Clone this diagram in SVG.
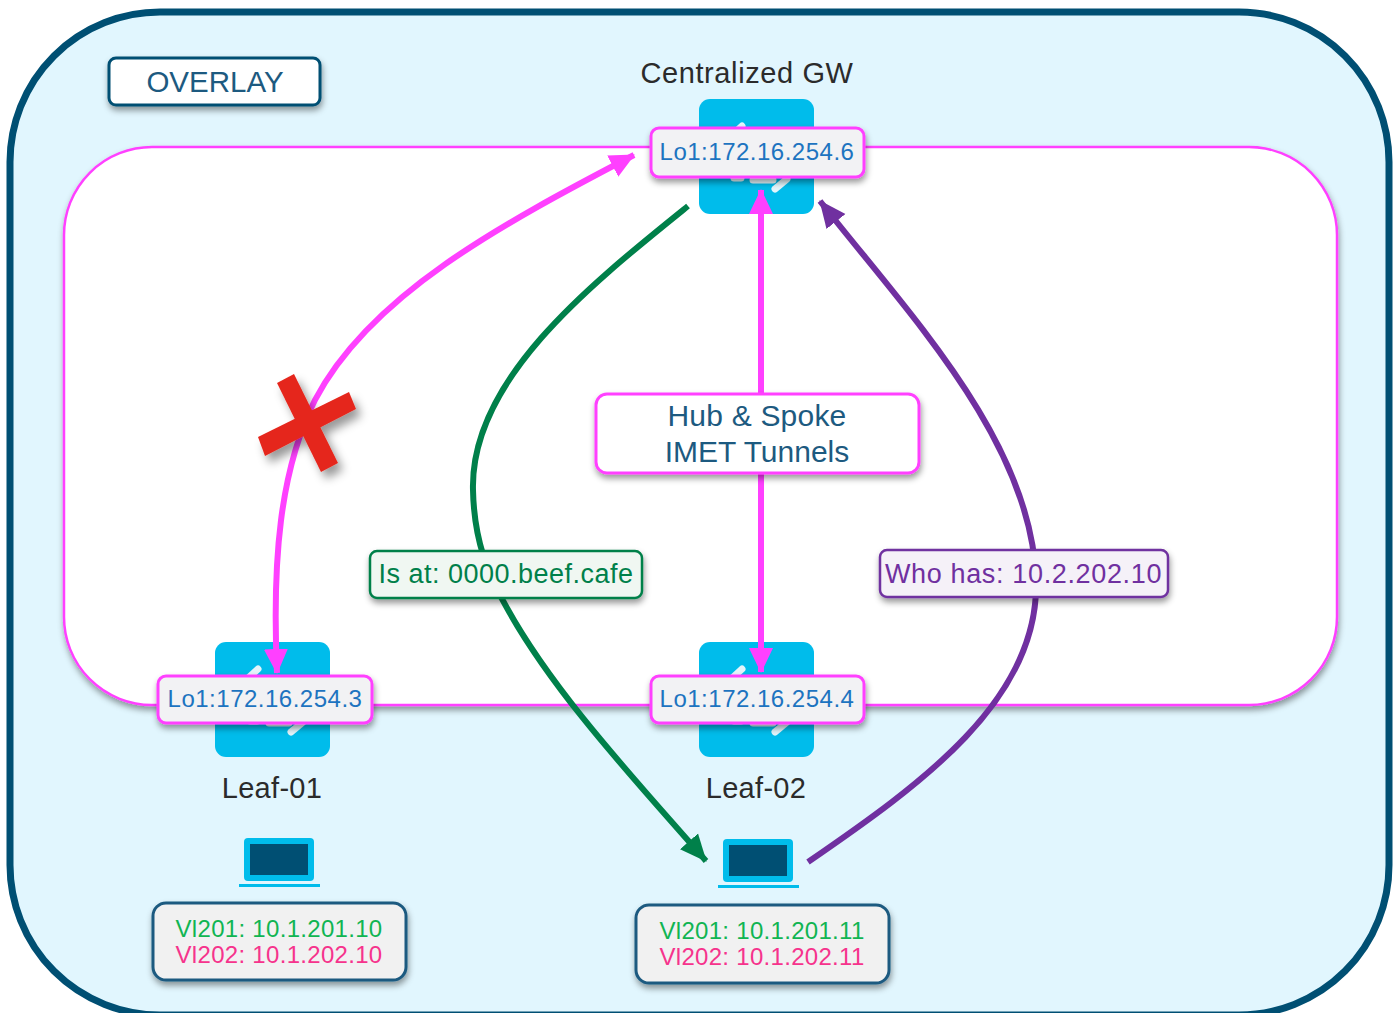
<svg xmlns="http://www.w3.org/2000/svg" width="1397" height="1013" viewBox="0 0 1397 1013">
<defs>
<filter id="sh" x="-20%" y="-30%" width="140%" height="170%"><feDropShadow dx="1" dy="4" stdDeviation="3" flood-color="#000" flood-opacity="0.4"/></filter>
<filter id="shx" x="-30%" y="-30%" width="170%" height="170%"><feDropShadow dx="5" dy="7" stdDeviation="5" flood-color="#000" flood-opacity="0.4"/></filter>
<marker id="mp" markerUnits="userSpaceOnUse" markerWidth="28" markerHeight="26" refX="24" refY="13" orient="auto-start-reverse"><path d="M0 1L25 13L0 25z" fill="#ff40ff"/></marker>
<marker id="mg" markerUnits="userSpaceOnUse" markerWidth="30" markerHeight="26" refX="26" refY="13" orient="auto"><path d="M0 1L27 13L0 25z" fill="#00804a"/></marker>
<marker id="mv" markerUnits="userSpaceOnUse" markerWidth="30" markerHeight="26" refX="26" refY="13" orient="auto"><path d="M0 1L27 13L0 25z" fill="#7030a0"/></marker>
<g id="sw"><rect width="115" height="115" rx="11" fill="#00bceb"/><g stroke="#e4f5fb" stroke-width="7" stroke-linecap="round" fill="none"><path d="M31 38L43 27"/><path d="M76 90L88 80"/><path d="M54 81H74"/><path d="M35 79H42"/></g></g>
<g id="lap"><rect x="5" y="0" width="70" height="43" rx="4" fill="#00bceb"/><rect x="11" y="6" width="58" height="31" fill="#004f73"/><rect x="0" y="46" width="81" height="3" fill="#00bceb"/></g>
</defs>
<style>
text{font-family:"Liberation Sans",Arial,sans-serif;text-anchor:middle}
.lo rect{fill:#f2f2f4;stroke:#ff40ff;stroke-width:3;filter:url(#sh)}
.lo text{font-size:24px;fill:#1d74c0;letter-spacing:.5px}
.name{font-size:29px;fill:#2b2b2b;letter-spacing:.3px}
.ip rect{fill:#f1f1f1;stroke:#1d5a80;stroke-width:3;filter:url(#sh)}
.g{font-size:24px;fill:#10b552;letter-spacing:.3px}
.r{font-size:24px;fill:#f6338c;letter-spacing:.3px}
.cv{fill:none;stroke-width:6}
</style>
<rect x="10" y="12" width="1379" height="1003" rx="150" fill="#e1f6fe" stroke="#004f73" stroke-width="7"/>
<rect id="overlay-zone" x="64" y="147" width="1273" height="558" rx="88" fill="#fff" stroke="#ff40ff" stroke-width="2.5" filter="url(#sh)"/>
<g id="overlay-label"><rect x="109" y="58" width="211" height="47" rx="7" fill="#fff" stroke="#004f73" stroke-width="3" filter="url(#sh)"/><text x="215" y="92" font-size="29.5" fill="#1d5a80">OVERLAY</text></g>
<g id="gw"><text class="name" x="747" y="83" style="letter-spacing:.6px">Centralized GW</text><use href="#sw" x="699" y="99"/></g>
<g id="leaf1"><use href="#sw" x="215" y="642"/><text class="name" x="272" y="798">Leaf-01</text></g>
<g id="leaf2"><use href="#sw" x="699" y="642"/><text class="name" x="756" y="798">Leaf-02</text></g>
<g id="connectors">
<path class="cv" stroke="#ff40ff" marker-start="url(#mp)" marker-end="url(#mp)" d="M277 673C272 560 280 470 315 400C370 295 500 225 634 155"/>
<path class="cv" stroke="#ff40ff" marker-start="url(#mp)" marker-end="url(#mp)" d="M761 190V672"/>
<path class="cv" stroke="#00804a" marker-end="url(#mg)" d="M688 206C590 285 470 380 473 490C474 540 488 575 507 608C555 695 640 785 706 861"/>
<path class="cv" stroke="#7030a0" marker-end="url(#mv)" d="M808 862C920 785 1040 700 1036 580C1032 440 905 310 820 201"/>
</g>
<g id="x-mark" filter="url(#shx)" fill="#e5261b"><path d="M277 383L294 374L338 463L321 472z"/><path d="M258 437L349 392L356 409L265 456z"/></g>
<g id="lo-gw" class="lo"><rect x="651" y="128" width="213" height="49" rx="8"/><text x="757" y="160">Lo1:172.16.254.6</text></g>
<g id="lo-leaf1" class="lo"><rect x="158" y="676" width="214" height="47" rx="8"/><text x="265" y="707">Lo1:172.16.254.3</text></g>
<g id="lo-leaf2" class="lo"><rect x="651" y="676" width="213" height="47" rx="8"/><text x="757" y="707">Lo1:172.16.254.4</text></g>
<g id="hub"><rect x="596" y="394" width="323" height="79" rx="11" fill="#fff" stroke="#ff40ff" stroke-width="3" filter="url(#sh)"/><text x="757" y="426" font-size="30" fill="#1d5a80" letter-spacing=".2">Hub &amp; Spoke</text><text x="757" y="462" font-size="30" fill="#1d5a80">IMET Tunnels</text></g>
<g id="isat"><rect x="370" y="551" width="272" height="47" rx="7" fill="#f0f7f2" stroke="#00804a" stroke-width="2.5" filter="url(#sh)"/><text x="506" y="583" font-size="27" fill="#00804a" letter-spacing=".5">Is at: 0000.beef.cafe</text></g>
<g id="whohas"><rect x="880" y="550" width="288" height="47" rx="7" fill="#f5f1f8" stroke="#7030a0" stroke-width="2.5" filter="url(#sh)"/><text x="1023.500" y="583" font-size="27" fill="#7030a0" letter-spacing=".65">Who has: 10.2.202.10</text></g>
<g id="host1"><use href="#lap" x="239" y="838"/><g class="ip"><rect x="153" y="903" width="253" height="77" rx="13"/><text class="g" x="279" y="937">Vl201: 10.1.201.10</text><text class="r" x="279" y="963">Vl202: 10.1.202.10</text></g></g>
<g id="host2"><use href="#lap" x="718" y="839"/><g class="ip"><rect x="636" y="905" width="253" height="78" rx="13"/><text class="g" x="762" y="939">Vl201: 10.1.201.11</text><text class="r" x="762" y="965">Vl202: 10.1.202.11</text></g></g>
</svg>
